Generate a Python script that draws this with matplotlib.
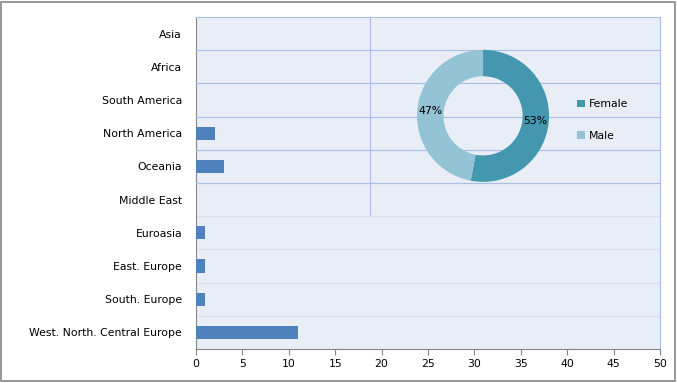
import numpy as np
import matplotlib
matplotlib.use('Agg')
import matplotlib.pyplot as plt
from matplotlib.patches import Rectangle

# Data
regions = ['Asia','Africa','South America','North America','Oceania','Middle East',
           'Euroasia','East. Europe','South. Europe','West. North. Central Europe']
counts = [0,0,0,2,3,0,1,1,1,11]
genders = ['Female','Male']
gender_share = [53,47]

# Styles
BAR_COL = '#4f81bd'
FACE_COL = '#e9edf5'
GRID_FAINT = '#d6e0f2'
GRID_STRONG = '#a9bfe8'
SPINE_GRAY = '#868686'
PIE_COLS = ['#4398b0','#93c3d5']
FS = 7.8

plt.rcParams['font.family'] = ['DejaVu Sans']
plt.rcParams['font.size'] = FS

fig = plt.figure(figsize=(6.77,3.83),dpi=100,facecolor='w')
fig.patches.append(Rectangle((0.002,0.004),0.995,0.99,transform=fig.transFigure,
                             fill=False,edgecolor=SPINE_GRAY,lw=1.2))

# Main bar chart
ax1 = fig.add_axes([0.2895,0.0888,0.6855,0.8668])
ax1.set_facecolor(FACE_COL)
ypos = np.arange(len(regions))[::-1]
ax1.barh(ypos,counts,height=0.4,color=BAR_COL,zorder=3)
ax1.set_xlim(0,50)
ax1.set_ylim(-0.5,len(regions)-0.5)
ax1.set_xticks(np.arange(0,51,5))
ax1.set_yticks(ypos)
ax1.set_yticklabels(regions)
for yb in np.arange(-0.5,len(regions),1.0)[1:-1]:
    ax1.axhline(yb,color=GRID_FAINT,lw=0.8,zorder=1)
ax1.tick_params(axis='y',length=0,pad=10,colors='black')
ax1.tick_params(axis='x',length=4,color=SPINE_GRAY,pad=3)
for s in ['left','bottom']:
    ax1.spines[s].set_color(SPINE_GRAY)
for s in ['top','right']:
    ax1.spines[s].set_color(GRID_STRONG)

# Overlay frame of the donut chart (upper part)
ax2 = fig.add_axes([0.2895,0.436,0.6855,0.5196])
ax2.set_facecolor('none')
ax2.set_xlim(0,1)
ax2.set_ylim(0,6)
ax2.set_xticks([])
ax2.set_yticks([])
for yb in range(1,6):
    ax2.axhline(yb,color=GRID_STRONG,lw=0.8)
ax2.axvline(0.375,color=GRID_STRONG,lw=0.8)
ax2.axhline(0,xmin=0.375,xmax=1,color='#dde5f4',lw=0.8)
for s in ax2.spines.values():
    s.set_visible(False)

# Donut
ax3 = fig.add_axes([0.616,0.525,0.195,0.345])
wedges,texts,autotexts = ax3.pie(gender_share,colors=PIE_COLS,startangle=90,counterclock=False,
                                 autopct=lambda p: '{:.0f}%'.format(p),pctdistance=0.8,
                                 wedgeprops=dict(width=0.4,edgecolor='none'),
                                 textprops=dict(fontsize=FS,color='black'))
ax3.set_xlim(-1,1)
ax3.set_ylim(-1,1)
ax3.set_aspect('equal')
fig.legend(wedges,genders,loc='center left',bbox_to_anchor=(577/677,(383-120)/383),
           bbox_transform=fig.transFigure,frameon=False,borderpad=0,borderaxespad=0,
           handlelength=0.7,handleheight=0.7,handletextpad=0.4,labelspacing=1.95,fontsize=FS)

plt.savefig('out.png',dpi=100,facecolor='w')
